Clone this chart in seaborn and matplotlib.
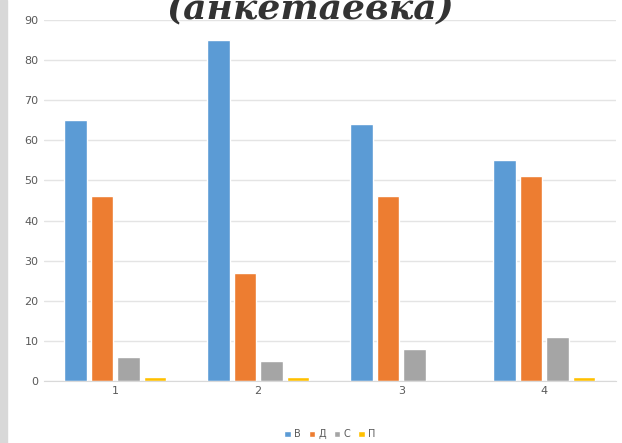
import pandas as pd
import seaborn as sns
import matplotlib.pyplot as plt
from matplotlib.patches import Rectangle

# данные с диаграммы
groups = ['1', '2', '3', '4']
series = ['В', 'Д', 'С', 'П']
v_vals = [65, 85, 64, 55]
d_vals = [46, 27, 46, 51]
s_vals = [6, 5, 8, 11]
p_vals = [1, 1, 0, 1]
colors = ['#5B9BD5', '#ED7D31', '#A5A5A5', '#FFC000']

rows = []
for name, vals in zip(series, [v_vals, d_vals, s_vals, p_vals]):
    for g, v in zip(groups, vals):
        rows.append({'group': g, 'series': name, 'value': v})
df = pd.DataFrame(rows)

sns.set_style('white')
fig = plt.figure(figsize=(6.22, 4.43), dpi=100)
ax = fig.add_axes([0.07, 0.14, 0.92, 0.815])

sns.barplot(data=df, x='group', y='value', hue='series', palette=colors,
            saturation=1, width=0.74, gap=0.15, ax=ax, legend=True)

ax.set_ylim(0, 90)
ax.set_yticks(range(0, 91, 10))
ax.set_xlim(-0.5, 3.5)
ax.yaxis.grid(True, color='#e4e4e4', linewidth=1)
ax.set_axisbelow(True)
for s in ['top', 'right', 'left']:
    ax.spines[s].set_visible(False)
ax.spines['bottom'].set_color('#d9d9d9')
ax.tick_params(axis='both', colors='#595959', labelsize=8, length=0)
ax.set_xlabel('')
ax.set_ylabel('')

ax.legend(loc='upper center', bbox_to_anchor=(0.5, -0.11), ncol=4, frameon=False,
          fontsize=7, handlelength=0.7, handleheight=0.7, columnspacing=0.8,
          handletextpad=0.3, labelcolor='#595959')

# обрезанный заголовок сверху
fig.text(0.5, 0.98, '(анкетаевка)', ha='center', va='center',
         fontsize=26, fontweight='bold', fontstyle='italic',
         family='DejaVu Serif', color='#333333')

# серая полоса слева
fig.patches.append(Rectangle((0, 0), 0.012, 1, transform=fig.transFigure,
                             color='#d8d8d8', zorder=0))

fig.savefig('out.png', dpi=100)
